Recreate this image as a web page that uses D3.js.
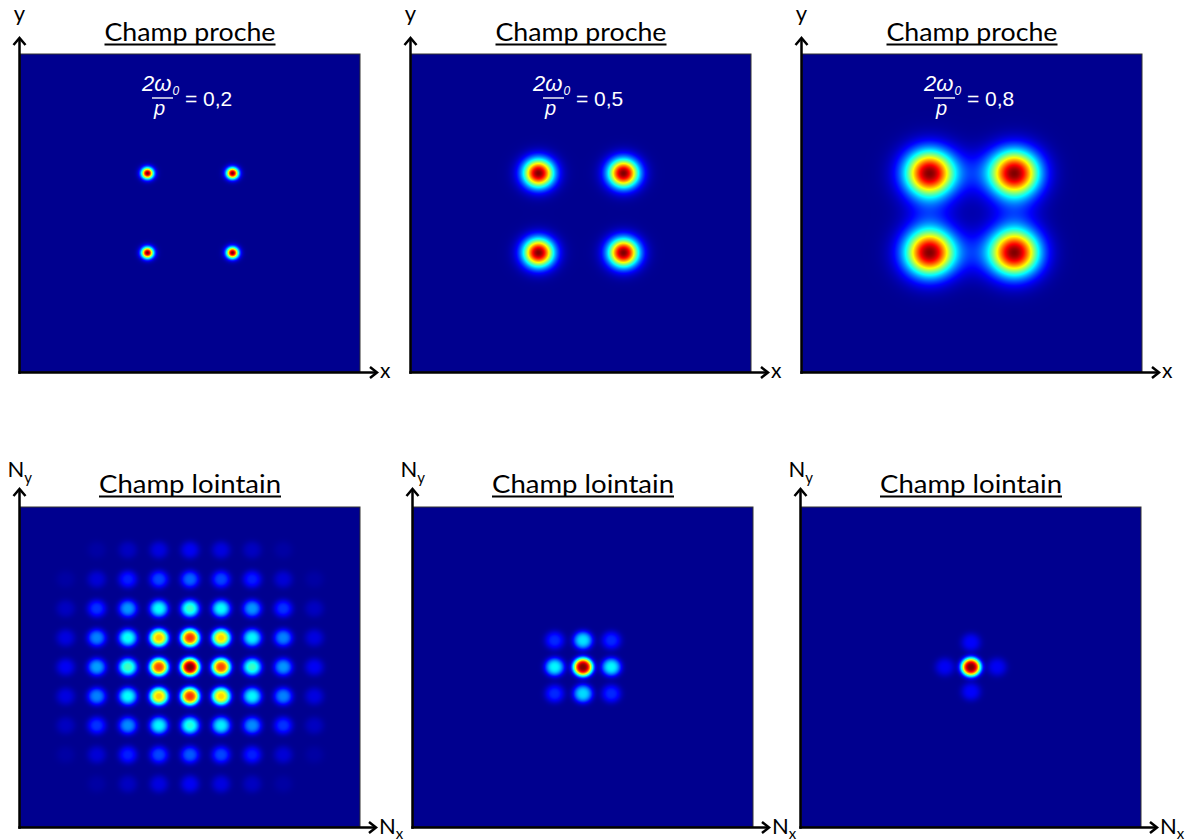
<!DOCTYPE html>
<html>
<head>
<meta charset="utf-8">
<script src="https://cdn.jsdelivr.net/npm/d3@7"></script>
<style>
  body { margin: 0; background: #fff; }
  svg { display: block; }
</style>
</head>
<body>
<svg id="fig" width="1193" height="840"></svg>
<script>
// ---------------- data ----------------
// Near field: 2x2 array of Gaussian beams, waist ratio 2*w0/p per panel
const waistRatios = [0.2, 0.5, 0.8];
// Beam centres, in units of the pitch p
const beamX = [-0.5, 0.5];
const beamY = [-0.5, 0.5];
// Near-field view half-width, in units of p
const nearHalfWidth = 2;

// Far field: peak intensity of each diffraction order (rows: Ny from top, cols: Nx)
const orders02 = [-4, -3, -2, -1, 0, 1, 2, 3, 4];
const peaks02 = [
  [0.00, 0.02, 0.05, 0.08, 0.10, 0.08, 0.05, 0.02, 0.00],
  [0.02, 0.07, 0.14, 0.18, 0.21, 0.18, 0.14, 0.07, 0.02],
  [0.05, 0.16, 0.26, 0.37, 0.42, 0.37, 0.26, 0.16, 0.05],
  [0.08, 0.24, 0.38, 0.68, 0.82, 0.66, 0.36, 0.24, 0.08],
  [0.10, 0.27, 0.43, 0.80, 1.00, 0.80, 0.42, 0.26, 0.10],
  [0.08, 0.24, 0.37, 0.67, 0.82, 0.66, 0.36, 0.24, 0.08],
  [0.05, 0.16, 0.25, 0.36, 0.40, 0.35, 0.25, 0.16, 0.05],
  [0.02, 0.07, 0.14, 0.18, 0.20, 0.18, 0.14, 0.07, 0.02],
  [0.00, 0.02, 0.05, 0.08, 0.10, 0.08, 0.05, 0.02, 0.00]
];
const orders05 = [-1, 0, 1];
const peaks05 = [
  [0.15, 0.34, 0.15],
  [0.36, 1.00, 0.36],
  [0.15, 0.33, 0.15]
];
const orders08 = [-1, 0, 1];
const peaks08 = [
  [0.00, 0.11, 0.00],
  [0.10, 1.00, 0.10],
  [0.00, 0.11, 0.00]
];
// Far-field view half-width and spot radius, in diffraction orders
const farHalfWidths = [5.47, 6.0, 6.5];
const farSpotSizes = [0.30, 0.34, 0.37];

const titleNear = "Champ proche";
const titleFar = "Champ lointain";

// ---------------- layout ----------------
const W = 1193, H = 840;
const nearBoxes = [
  { x: 20, y: 54, w: 340, h: 318 },
  { x: 411, y: 54, w: 340, h: 318 },
  { x: 802, y: 54, w: 340, h: 318 }
];
const farBoxes = [
  { x: 20, y: 507, w: 340, h: 320 },
  { x: 413, y: 507, w: 340, h: 320 },
  { x: 801, y: 507, w: 340, h: 320 }
];

const svg = d3.select("#fig");
svg.append("rect").attr("width", W).attr("height", H).attr("fill", "#fff");

// jet colour map (MATLAB style)
const jet = d3.scaleLinear()
  .domain([0, 0.111, 0.365, 0.619, 0.873, 1])
  .range(["#00008f", "#0000ff", "#00ffff", "#ffff00", "#ff0000", "#800000"])
  .interpolate(d3.interpolateRgb)
  .clamp(true);
const LUT_N = 1024;
const lut = d3.range(LUT_N).map(i => d3.rgb(jet(i / (LUT_N - 1))));

// Rasterise a scalar field over a box, normalised to its maximum, into an SVG image
function drawField(box, xScale, yScale, field) {
  const { w, h } = box;
  const vals = new Float32Array(w * h);
  let vmax = 0;
  for (let j = 0; j < h; j++) {
    const fy = yScale.invert(j + 0.5);
    for (let i = 0; i < w; i++) {
      const fx = xScale.invert(i + 0.5);
      const v = field(fx, fy);
      vals[j * w + i] = v;
      if (v > vmax) vmax = v;
    }
  }
  const canvas = document.createElement("canvas");
  canvas.width = w; canvas.height = h;
  const ctx = canvas.getContext("2d");
  const img = ctx.createImageData(w, h);
  for (let k = 0; k < w * h; k++) {
    const t = vmax > 0 ? vals[k] / vmax : 0;
    const c = lut[Math.max(0, Math.min(LUT_N - 1, Math.round(t * (LUT_N - 1))))];
    img.data[4 * k] = c.r; img.data[4 * k + 1] = c.g; img.data[4 * k + 2] = c.b; img.data[4 * k + 3] = 255;
  }
  ctx.putImageData(img, 0, 0);
  const g = svg.append("g").attr("transform", `translate(${box.x},${box.y})`);
  g.append("image")
    .attr("width", w).attr("height", h)
    .attr("preserveAspectRatio", "none")
    .attr("href", canvas.toDataURL("image/png"));
  g.append("rect")
    .attr("width", w).attr("height", h)
    .attr("fill", "none").attr("stroke", "#333").attr("stroke-width", 1);
  return g;
}

const labelFont = "Lato, 'Open Sans', sans-serif";

// Axis arrows along the left and bottom edges of a box
function drawAxes(box, lblX, lblY, subX, subY, tipUp, tipRight) {
  const g = svg.append("g").attr("fill", "none").attr("stroke", "#000")
    .attr("stroke-width", 2.5).attr("stroke-linecap", "butt");
  const x0 = box.x - 0.5, y0 = box.y + box.h + 0.5;
  const yTip = box.y - tipUp, xTip = box.x + box.w + tipRight;
  g.append("line").attr("x1", x0).attr("y1", y0 + 1.2).attr("x2", x0).attr("y2", yTip + 1);
  g.append("line").attr("x1", x0 - 1.2).attr("y1", y0).attr("x2", xTip - 1).attr("y2", y0);
  g.append("path").attr("stroke-linejoin", "miter")
    .attr("d", `M${x0 - 6},${yTip + 8} L${x0},${yTip + 1} L${x0 + 6},${yTip + 8}`);
  g.append("path").attr("stroke-linejoin", "miter")
    .attr("d", `M${xTip - 8},${y0 - 5.5} L${xTip - 1},${y0} L${xTip - 8},${y0 + 5.5}`);

  // vertical axis label
  const ty = svg.append("text").attr("font-family", labelFont).attr("fill", "#000");
  if (subY) {
    ty.attr("x", x0 - 12).attr("y", box.y - 30).attr("font-size", 22).text(lblY);
    ty.append("tspan").attr("font-size", 15).attr("dy", 6).text(subY);
  } else {
    ty.attr("x", x0).attr("y", box.y - 33).attr("font-size", 22)
      .attr("text-anchor", "middle").text(lblY);
  }
  // horizontal axis label
  const tx = svg.append("text").attr("font-family", labelFont).attr("fill", "#000");
  if (subX) {
    tx.attr("x", xTip + 2).attr("y", y0 + 6).attr("font-size", 22).text(lblX);
    tx.append("tspan").attr("font-size", 15).attr("dy", 5).text(subX);
  } else {
    tx.attr("x", xTip + 2).attr("y", y0 + 5.5).attr("font-size", 21).text(lblX);
  }
}

// Underlined panel title
function drawTitle(box, text, baseline, width) {
  const cx = box.x + box.w / 2;
  svg.append("text")
    .attr("x", cx - width / 2).attr("y", baseline)
    .attr("font-family", labelFont)
    .attr("font-size", 25.5)
    .attr("textLength", width).attr("lengthAdjust", "spacingAndGlyphs")
    .attr("fill", "#000")
    .text(text);
  svg.append("line")
    .attr("x1", cx - width / 2).attr("x2", cx + width / 2)
    .attr("y1", baseline + 3.5).attr("y2", baseline + 3.5)
    .attr("stroke", "#000").attr("stroke-width", 2.2);
}

// ---------------- near field ----------------
nearBoxes.forEach((box, k) => {
  const ratio = waistRatios[k];
  const w0 = ratio / 2; // waist in units of p
  const xs = d3.scaleLinear().domain([-nearHalfWidth, nearHalfWidth]).range([0, box.w]);
  const ys = d3.scaleLinear().domain([nearHalfWidth, -nearHalfWidth]).range([0, box.h]);
  const field = (x, y) => {
    let e = 0;
    for (const bx of beamX) for (const by of beamY) {
      const dx = x - bx, dy = y - by;
      e += Math.exp(-(dx * dx + dy * dy) / (w0 * w0));
    }
    return e * e;
  };
  drawField(box, xs, ys, field);
  drawAxes(box, "x", "y", null, null, 17, 18);
  drawTitle(box, titleNear, 41, 171);

  // ratio label 2w0/p = value
  const cx = box.x + box.w / 2;
  const lab = svg.append("g").attr("fill", "#fff")
    .attr("font-family", "'Liberation Sans', Arial, sans-serif");
  const num = lab.append("text").attr("x", cx - 48).attr("y", 91)
    .attr("font-size", 22).attr("font-style", "italic").text("2ω");
  const numW = num.node().getComputedTextLength();
  lab.append("text").attr("x", cx - 48 + numW + 1).attr("y", 95)
    .attr("font-size", 12).attr("font-style", "italic").text("0");
  lab.append("line").attr("x1", cx - 38).attr("x2", cx - 17)
    .attr("y1", 98).attr("y2", 98).attr("stroke", "#fff").attr("stroke-width", 1.4);
  lab.append("text").attr("x", cx - 36).attr("y", 115)
    .attr("font-size", 20).attr("font-style", "italic").text("p");
  lab.append("text").attr("x", cx - 5).attr("y", 106)
    .attr("font-size", 21).text("= " + String(ratio).replace(".", ","));
});

// ---------------- far field ----------------
const farSets = [
  { orders: orders02, peaks: peaks02 },
  { orders: orders05, peaks: peaks05 },
  { orders: orders08, peaks: peaks08 }
];
farBoxes.forEach((box, k) => {
  const { orders, peaks } = farSets[k];
  const half = farHalfWidths[k];
  const a = farSpotSizes[k];
  const xs = d3.scaleLinear().domain([-half, half]).range([0, box.w]);
  const ys = d3.scaleLinear().domain([half, -half]).range([0, box.h]);
  const n = orders.length;
  const spots = [];
  peaks.forEach((row, r) => row.forEach((amp, c) => {
    if (amp > 0) spots.push({ nx: orders[c], ny: orders[n - 1 - r], amp });
  }));
  const field = (x, y) => {
    let v = 0;
    for (const s of spots) {
      const dx = (x - s.nx) / a, dy = (y - s.ny) / a;
      if (Math.abs(dx) > 3 || Math.abs(dy) > 3) continue;
      const r = Math.sqrt(dx * dx + dy * dy);
      v += s.amp * Math.exp(-r * r * r);
    }
    return v;
  };
  drawField(box, xs, ys, field);
  drawAxes(box, "N", "N", "x", "y", 19, 17);
  drawTitle(box, titleFar, 493, 182);
});
</script>
</body>
</html>
